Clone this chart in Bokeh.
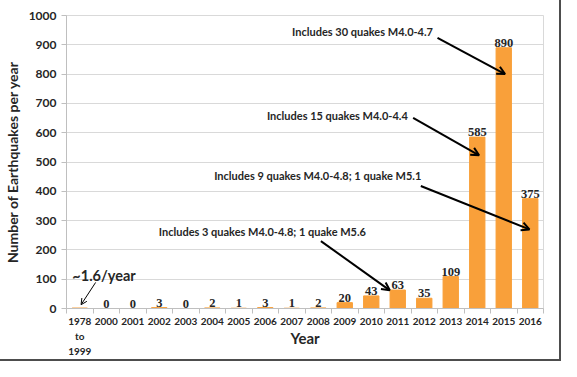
from bokeh.plotting import figure
from bokeh.models import Range1d, FixedTicker, LabelSet, Label, Arrow, OpenHead, ColumnDataSource
from bokeh.embed import file_html
from bokeh.resources import INLINE

years = ["1978\nto\n1999", "2000", "2001", "2002", "2003", "2004", "2005", "2006", "2007",
         "2008", "2009", "2010", "2011", "2012", "2013", "2014", "2015", "2016"]
counts = [1.6, 0, 0, 3, 0, 2, 1, 3, 1, 2, 20, 43, 63, 35, 109, 585, 890, 375]
value_labels = ["", "0", "0", "3", "0", "2", "1", "3", "1", "2", "20", "43", "63", "35",
                "109", "585", "890", "375"]

# annotations: text, text right x, text y, arrow start x, y, arrow end x, y (data coords)
notes = [
    ("Includes 30 quakes M4.0-4.7", 13.83, 944, 14.0, 924, 16.55, 800),
    ("Includes 15 quakes M4.0-4.4", 12.88, 658, 13.08, 651, 15.57, 523),
    ("Includes 9 quakes M4.0-4.8; 1 quake M5.1", 13.39, 454, 13.37, 418, 17.47, 270),
    ("Includes 3 quakes M4.0-4.8; 1 quake M5.6", 11.3, 263, 9.6, 230, 12.2, 62),
]

FONT = "Lato"
TXT = "#262626"

xs = [i + 0.5 for i in range(len(years))]
src = ColumnDataSource(dict(x=xs, top=counts, lab=value_labels))

p = figure(width=559, height=359, x_range=Range1d(0, len(years)), y_range=Range1d(0, 1000),
           output_backend="svg", toolbar_location=None,
           min_border_left=63, min_border_right=16, min_border_top=15, min_border_bottom=51)
p.styles = {"outline": "2px solid #4d4d4d"}
p.outline_line_color = "#d9d9d9"

p.vbar(x="x", top="top", width=0.58, source=src, color="#F9A03A")

p.add_layout(LabelSet(x="x", y="top", text="lab", source=src, text_align="center",
                      text_baseline="bottom", y_offset=1, text_font=FONT,
                      text_font_size="12.5px", text_font_style="bold", text_color=TXT))

# x axis
xa = p.xaxis[0]
xa.ticker = FixedTicker(ticks=xs, minor_ticks=list(range(len(years) + 1)))
xa.major_label_overrides = {x: y for x, y in zip(xs, years)}
xa.major_tick_line_color = None
xa.minor_tick_in = 0
xa.minor_tick_out = 5
xa.minor_tick_line_color = "#bfbfbf"
xa.axis_line_color = "#bfbfbf"
xa.major_label_text_font = FONT
xa.major_label_text_font_style = "bold"
xa.major_label_text_font_size = "10px"
xa.major_label_text_color = TXT
xa.major_label_text_line_height = 1.25
xa.major_label_standoff = 0
xa.axis_label = "Year"
xa.axis_label_text_font = FONT
xa.axis_label_text_font_style = "bold"
xa.axis_label_text_font_size = "15px"
xa.axis_label_text_color = TXT
xa.axis_label_standoff = -31

# y axis
ya = p.yaxis[0]
ya.ticker = FixedTicker(ticks=list(range(0, 1001, 100)))
ya.minor_tick_line_color = None
ya.major_tick_in = 0
ya.major_tick_out = 5
ya.major_tick_line_color = "#bfbfbf"
ya.axis_line_color = "#bfbfbf"
ya.major_label_text_font = FONT
ya.major_label_text_font_style = "bold"
ya.major_label_text_font_size = "12px"
ya.major_label_text_color = TXT
ya.axis_label = "Number of Earthquakes per year"
ya.axis_label_text_font = FONT
ya.axis_label_text_font_style = "bold"
ya.axis_label_text_font_size = "14px"
ya.axis_label_text_color = TXT
ya.axis_label_standoff = 5

p.xgrid.grid_line_color = None
p.ygrid.grid_line_color = "#d9d9d9"
p.ygrid.ticker = ya.ticker

for text, tx, ty, x0, y0, x1, y1 in notes:
    p.add_layout(Label(x=tx, y=ty, text=text, text_align="right", text_baseline="middle",
                       text_font=FONT, text_font_style="bold", text_font_size="11px",
                       text_color=TXT))
    p.add_layout(Arrow(x_start=x0, y_start=y0, x_end=x1, y_end=y1, line_width=2,
                       line_color="black", end=OpenHead(size=8, line_width=2, line_color="black")))

p.add_layout(Label(x=0.22, y=112, text="~1.6/year", text_align="left", text_baseline="middle",
                   text_font=FONT, text_font_style="bold", text_font_size="14.5px",
                   text_color=TXT))
p.add_layout(Arrow(x_start=1.1, y_start=89, x_end=0.55, y_end=13, line_width=1,
                   line_color="black", end=OpenHead(size=6, line_width=1, line_color="black")))

open("out.html", "w").write(file_html(p, INLINE))
